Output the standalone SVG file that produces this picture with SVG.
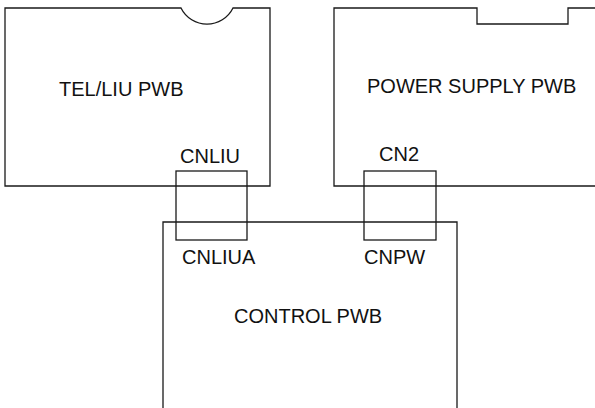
<svg xmlns="http://www.w3.org/2000/svg" width="595" height="408" viewBox="0 0 595 408">
<style>
.b{fill:none;stroke:#1a1a1a;stroke-width:1.3}
.t{font-family:"Liberation Sans",Arial,sans-serif;font-size:20px;fill:#111}
</style>
<rect width="595" height="408" fill="#fff"/>
<g id="tel-liu-pwb">
<path class="b" d="M5,8 H181 A29,29 0 0 0 233,8 H270 V186 H5 Z"/>
<text class="t" x="59" y="96">TEL/LIU PWB</text>
<text class="t" x="180" y="163">CNLIU</text>
</g>
<g id="power-supply-pwb">
<path class="b" d="M600,8 H568 V24 H477 V8 H334 V186 H600"/>
<text class="t" x="367" y="93">POWER SUPPLY PWB</text>
<text class="t" x="379" y="161">CN2</text>
</g>
<g id="control-pwb">
<path class="b" d="M163,420 V222 H457 V420"/>
<text class="t" x="182" y="264">CNLIUA</text>
<text class="t" x="364" y="264">CNPW</text>
<text class="t" x="234" y="323">CONTROL PWB</text>
</g>
<g id="connectors">
<rect class="b" x="176" y="171" width="71" height="69"/>
<rect class="b" x="364" y="171" width="72" height="69"/>
</g>
</svg>
